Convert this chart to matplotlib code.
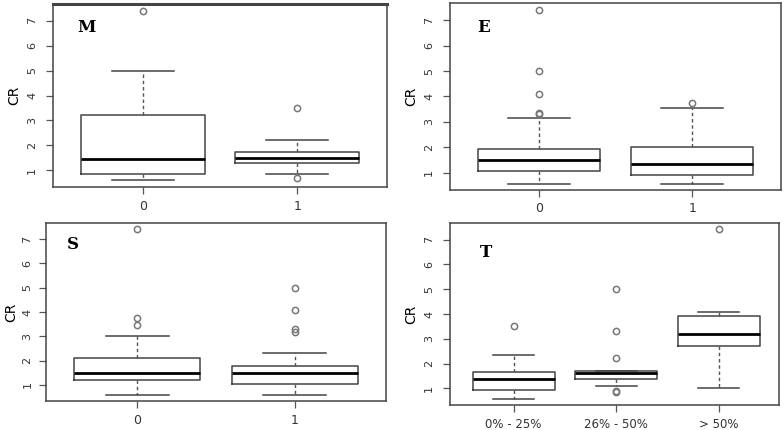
import matplotlib
matplotlib.use("Agg")
import matplotlib.pyplot as plt

# five-number summaries: (whislo, q1, med, q3, whishi)
m_stats = [(0.60, 0.87, 1.47, 3.20, 5.00), (0.87, 1.30, 1.50, 1.72, 2.20)]
m_fliers = [[7.40], [3.50, 0.68]]

e_stats = [(0.55, 1.08, 1.49, 1.93, 3.15), (0.55, 0.92, 1.37, 2.03, 3.54)]
e_fliers = [[3.30, 3.37, 4.09, 5.00, 7.39], [3.75]]

s_stats = [(0.57, 1.18, 1.48, 2.10, 3.00), (0.57, 1.03, 1.48, 1.76, 2.30)]
s_fliers = [[3.48, 3.74, 7.41], [3.19, 3.30, 4.09, 5.00]]

t_stats = [(0.56, 0.93, 1.39, 1.65, 2.33), (1.08, 1.39, 1.64, 1.72, 1.72),
           (1.00, 2.70, 3.18, 3.91, 4.10)]
t_fliers = [[3.51], [0.84, 0.91, 2.21, 3.31, 5.00], [7.44]]

binary_labels = ["0", "1"]
t_labels = ["0% - 25%", "26% - 50%", "> 50%"]
panel_names = ["M", "E", "S", "T"]

W, H = 784, 430
fig = plt.figure(figsize=(W / 100, H / 100), dpi=100)


def px_axes(x0, y0, x1, y1):
    # pixel box (top-left origin) -> figure fraction
    return fig.add_axes([x0 / W, 1 - y1 / H, (x1 - x0) / W, (y1 - y0) / H])


def draw_panel(ax, stats, fliers, labels, name, letter_xy, xlim,
               ypad=6.5, labelpad=4.5, xfs=9):
    boxes = []
    for (lo, q1, med, q3, hi), fl, lab in zip(stats, fliers, labels):
        boxes.append(dict(whislo=lo, q1=q1, med=med, q3=q3, whishi=hi,
                          fliers=fl, label=lab))
    n = len(boxes)
    ax.bxp(boxes, positions=range(1, n + 1), widths=0.8, showfliers=True,
           boxprops=dict(color="#444444", lw=1.1),
           medianprops=dict(color="black", lw=2.0),
           whiskerprops=dict(color="#555555", lw=1.0, ls=(0, (2.5, 2))),
           capprops=dict(color="#444444", lw=1.1),
           flierprops=dict(marker="o", markersize=4.5, markerfacecolor="none",
                           markeredgecolor="#777777", markeredgewidth=1.1))
    ax.set_xlim(*xlim)
    ax.set_ylim(0.33, 7.67)
    ax.set_yticks(range(1, 8))
    ax.set_yticklabels([str(v) for v in range(1, 8)], rotation=90,
                       va="center", fontsize=8, color="#333333")
    ax.set_xticks(range(1, n + 1))
    ax.set_xticklabels(labels, fontsize=xfs, color="#333333")
    ax.tick_params(axis="y", direction="out", length=5, pad=ypad,
                   color="#555555", width=0.9)
    ax.tick_params(axis="x", direction="out", length=5, pad=4,
                   color="#555555", width=0.9)
    ax.set_ylabel("CR", fontsize=10, labelpad=labelpad)
    for sp in ax.spines.values():
        sp.set_color("#444444")
        sp.set_linewidth(1.1)
    ax.text(letter_xy[0], letter_xy[1], name, transform=ax.transAxes,
            fontsize=12, fontweight="bold", family="DejaVu Serif",
            va="center", ha="center")


ax_m = px_axes(53, 4, 387, 187)
draw_panel(ax_m, m_stats, m_fliers, binary_labels, panel_names[0],
           (0.10, 0.87), (0.42, 2.58))
ax_m.spines["top"].set_linewidth(2.2)

ax_e = px_axes(450, 3, 781, 190)
draw_panel(ax_e, e_stats, e_fliers, binary_labels, panel_names[1],
           (0.10, 0.87), (0.42, 2.58))

ax_s = px_axes(46, 223, 386, 401)
draw_panel(ax_s, s_stats, s_fliers, binary_labels, panel_names[2],
           (0.08, 0.88), (0.42, 2.58), ypad=4.8, labelpad=3)

ax_t = px_axes(450, 223, 779, 405)
draw_panel(ax_t, t_stats, t_fliers, t_labels, panel_names[3],
           (0.11, 0.84), (0.38, 3.59), xfs=8.5)

fig.savefig("out.png", dpi=100)
